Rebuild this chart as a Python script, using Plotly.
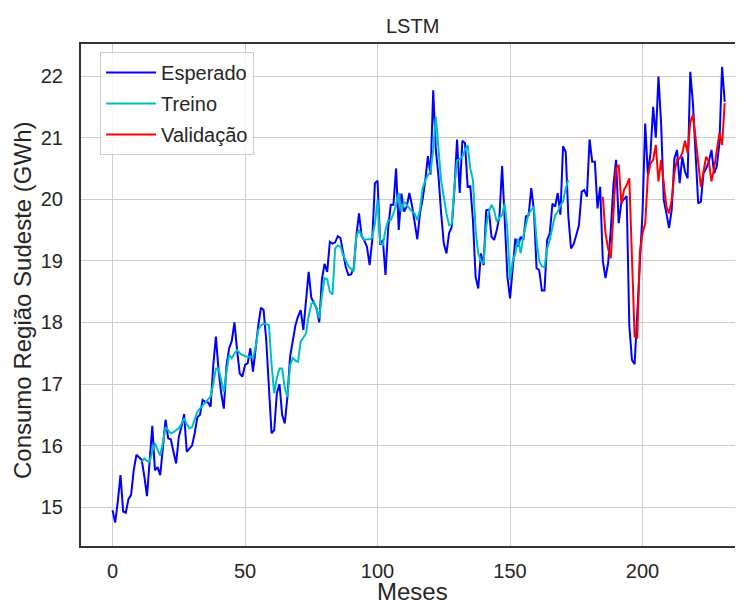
import plotly.graph_objects as go

# ---------------- data ----------------
esperado = [
    14.95, 14.75, 15.10, 15.52, 14.93, 14.91, 15.13, 15.20, 15.60, 15.85,
    15.81, 15.77, 15.50, 15.18, 15.75, 16.32, 15.60, 15.65, 15.52, 16.00,
    16.42, 16.12, 16.10, 15.90, 15.71, 16.14, 16.30, 16.51, 15.90, 15.95,
    16.00, 16.20, 16.46, 16.50, 16.74, 16.71, 16.70, 16.63, 17.30, 17.77,
    17.23, 16.85, 16.60, 17.30, 17.58, 17.70, 18.00, 17.55, 17.17, 17.12,
    17.31, 17.34, 17.58, 17.20, 17.60, 17.95, 18.24, 18.20, 17.71, 16.90,
    16.20, 16.25, 16.85, 17.00, 16.50, 16.36, 16.80, 17.44, 17.70, 17.95,
    18.10, 18.20, 17.88, 18.30, 18.82, 18.40, 18.30, 18.23, 18.00, 18.70,
    18.95, 18.82, 19.31, 19.28, 19.30, 19.40, 19.37, 19.10, 18.90, 18.77,
    18.78, 18.88, 19.40, 19.77, 19.40, 19.33, 19.23, 18.93, 19.34, 20.26,
    20.30, 19.26, 19.34, 18.77, 19.53, 19.91, 19.91, 20.50, 19.50, 20.09,
    19.80, 19.88, 20.10, 19.90, 19.60, 19.35, 19.77, 20.00, 20.30, 20.70,
    20.40, 21.77, 20.80, 20.37, 19.77, 19.28, 19.12, 19.45, 19.55, 20.15,
    20.97, 20.10, 20.95, 20.91, 20.20, 20.21, 19.66, 18.74, 18.55, 19.12,
    18.93, 19.82, 19.83, 19.39, 19.34, 19.50, 19.72, 20.54, 19.66, 18.74,
    18.39, 18.93, 19.36, 19.23, 19.39, 19.34, 19.72, 19.74, 20.18, 19.82,
    18.88, 18.85, 18.52, 18.52, 19.34, 19.45, 19.93, 19.88, 20.10, 19.75,
    20.86, 20.77, 19.72, 19.20, 19.27, 19.42, 19.58, 20.12, 20.15, 20.04,
    20.97, 20.61, 20.61, 19.85, 20.20, 19.00, 18.72, 18.96, 19.50, 20.23,
    20.64, 19.61, 19.95, 20.00, 20.05, 17.95, 17.39, 17.32, 18.15, 19.05,
    19.80, 21.23, 20.40, 20.75, 21.50, 21.00, 21.99, 21.23, 19.99, 19.77,
    19.53, 19.83, 20.66, 20.80, 20.26, 20.69, 20.45, 20.34, 22.07, 21.56,
    20.80, 19.93, 19.96, 20.42, 20.50, 20.61, 20.80, 20.42, 20.53, 20.91,
    22.15, 21.58,
]

treino_inicio = 11
treino = [
    15.74, 15.79, 15.75, 15.74, 15.90, 16.04, 15.93, 15.84, 16.05,
    16.30, 16.25, 16.20, 16.22, 16.25, 16.28, 16.35, 16.44, 16.35, 16.28,
    16.30, 16.42, 16.55, 16.60, 16.65, 16.70, 16.75, 16.80, 17.00, 17.25,
    17.25, 17.06, 16.87, 17.20, 17.47, 17.42, 17.50, 17.55, 17.50, 17.47,
    17.45, 17.44, 17.45, 17.42, 17.60, 17.88, 17.95, 17.98, 17.97, 17.96,
    17.33, 16.85, 17.10, 17.25, 17.25, 16.93, 16.79, 17.30, 17.42, 17.38,
    17.36, 17.69, 17.75, 17.82, 18.10, 18.30, 18.34, 18.20, 18.07, 18.44,
    18.72, 18.70, 18.50, 18.45, 19.20, 19.25, 19.23, 19.10, 19.00, 18.91,
    18.87, 18.83, 19.40, 19.50, 19.40, 19.34, 19.35, 19.35, 19.38, 19.60,
    19.99, 19.29, 19.26, 19.50, 19.66, 19.66, 19.77, 19.91, 20.10, 19.80,
    19.96, 19.90, 19.85, 19.80, 19.77, 19.66, 19.83, 20.18, 20.30, 20.39,
    20.45, 20.80, 21.34, 20.85, 20.30, 20.04, 19.77, 19.58, 19.60, 20.20,
    20.63, 20.65, 20.69, 20.80, 20.88, 20.50, 20.31, 19.50, 19.12, 19.00,
    18.96, 19.55, 19.80, 19.91, 19.82, 19.63, 19.70, 19.74, 19.93, 19.50,
    18.69, 19.00, 19.12, 19.36, 19.12, 19.40, 19.61, 19.77, 19.82, 19.88,
    19.34, 19.00, 18.91, 18.90, 19.20, 19.34, 19.55, 19.74, 19.80, 19.90,
    19.96, 20.18, 20.31,
]

validacao_inicio = 185
validacao = [
    20.04, 19.45, 19.20, 19.04, 19.77, 20.50, 20.56, 19.93, 20.15, 20.23,
    20.34, 18.91, 17.77, 17.74, 19.15, 19.45, 19.61, 20.37, 20.58, 20.64,
    20.88, 20.29, 20.64, 20.26, 19.88, 19.77, 19.99, 20.42, 20.64, 20.66,
    20.75, 20.95, 20.75, 21.25, 21.37, 21.00, 20.64, 20.20, 20.45, 20.69,
    20.61, 20.29, 20.50, 20.80, 21.07, 20.88, 21.56,
]

x_ticks = [0, 50, 100, 150, 200]
y_ticks = [15, 16, 17, 18, 19, 20, 21, 22]

titulo = "LSTM"
rotulo_x = "Meses"
rotulo_y = "Consumo Região Sudeste (GWh)"

# ---------------- figure ----------------
FONT = "Liberation Sans, Arial, Helvetica, sans-serif"
TXT = "#262626"

meses_esp = list(range(len(esperado)))
meses_tre = list(range(treino_inicio, treino_inicio + len(treino)))
meses_val = list(range(validacao_inicio, validacao_inicio + len(validacao)))

fig = go.Figure()
fig.add_trace(go.Scatter(x=meses_esp, y=esperado, mode="lines", name="Esperado",
                         legendgroup="a", line=dict(color="#0000ff", width=2)))
fig.add_trace(go.Scatter(x=meses_tre, y=treino, mode="lines", name="Treino",
                         legendgroup="b", line=dict(color="#00bfbf", width=2)))
fig.add_trace(go.Scatter(x=meses_val, y=validacao, mode="lines", name="Validação",
                         legendgroup="c", line=dict(color="#ff0000", width=2)))

axis_common = dict(
    showgrid=True, gridcolor="#cccccc", gridwidth=1,
    zeroline=False, showline=True, linecolor="#333333", linewidth=2,
    ticks="outside", tickcolor="rgba(0,0,0,0)",
    tickfont=dict(family=FONT, size=20, color=TXT),
)

fig.update_layout(
    width=735, height=599,
    margin=dict(l=73, r=0, t=36, b=61),
    paper_bgcolor="white", plot_bgcolor="white",
    font=dict(family=FONT, size=20, color=TXT),
    xaxis=dict(range=[-11.9, 237.9], tickvals=x_ticks, mirror=True, ticklen=6,
               **axis_common),
    yaxis=dict(range=[14.37, 22.52], tickvals=y_ticks, mirror=False, ticklen=12,
               **axis_common),
    showlegend=True,
    legend=dict(x=0.0288, y=0.984, xanchor="left", yanchor="top",
                bgcolor="rgba(255,255,255,0.8)", bordercolor="#cccccc", borderwidth=1,
                itemwidth=50, tracegroupgap=2,
                font=dict(family=FONT, size=20, color=TXT)),
    annotations=[
        dict(text=titulo, xref="paper", yref="paper", x=0.5, y=1, yshift=18,
             xanchor="center", yanchor="middle", showarrow=False,
             font=dict(family=FONT, size=20, color=TXT)),
        dict(text=rotulo_x, xref="paper", yref="paper", x=0.5, y=0, yshift=-45,
             xanchor="center", yanchor="middle", showarrow=False, borderpad=0,
             font=dict(family=FONT, size=24, color=TXT)),
        dict(text=rotulo_y, xref="paper", yref="paper", x=0, y=0.5, xshift=-59,
             yshift=-5, xanchor="center", yanchor="middle", textangle=-90,
             showarrow=False, font=dict(family=FONT, size=24, color=TXT)),
    ],
)

fig.write_html("out.html")
